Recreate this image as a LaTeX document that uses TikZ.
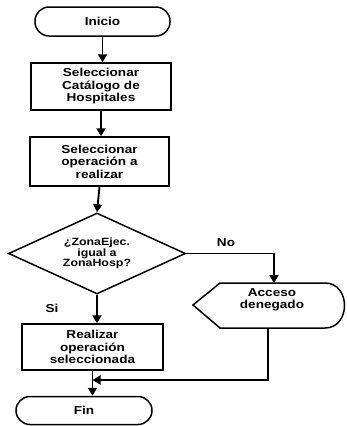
\documentclass[tikz,border=0pt]{standalone}
\usepackage{fontspec}
\newfontfamily\diafont{Liberation Sans}[FakeStretch=1.18]
\usetikzlibrary{shapes.geometric,arrows.meta}
\begin{document}
\begin{tikzpicture}[x=1pt,y=-1pt,
  every node/.style={font=\diafont\bfseries\fontsize{11.5}{12.5}\selectfont, align=center, inner sep=0pt},
  procbox/.style={draw, line width=1.5pt, rectangle},
  termbox/.style={draw, line width=1.5pt, rectangle, rounded corners=14pt},
  decbox/.style={draw, line width=1.5pt, diamond, aspect=2.2, font=\diafont\bfseries\fontsize{10.5}{10.5}\selectfont},
  shapeline/.style={line width=1.5pt},
  flow/.style={line width=1.9pt, -{Triangle[length=8pt,width=9pt]}}]
\useasboundingbox (0,0) rectangle (347,426);
% nodes
\node[termbox, minimum width=135pt, minimum height=29pt] (ini) at (102.5,21.5) {Inicio};
\node[procbox, minimum width=140pt, minimum height=47pt] (cat) at (101,86.5) {Seleccionar\\Catálogo de\\Hospitales};
\node[procbox, minimum width=139pt, minimum height=49pt] (ope) at (99.5,161.5) {Seleccionar\\operación a\\realizar};
\node[decbox, minimum width=177pt, minimum height=81pt] (dec) at (97,253.5) {¿ZonaEjec.\\igual a\\ZonaHosp?};
\node[procbox, minimum width=141pt, minimum height=46pt] (rea) at (92.5,347) {Realizar\\operación\\seleccionada};
\node[termbox, minimum width=136pt, minimum height=28pt] (fin) at (84,410.5) {Fin};
% display shape
\draw[shapeline] (193,305) -- (220,283) -- (325,283) .. controls (351,283) and (351,328) .. (325,328) -- (220,328) -- cycle;
\node (acc) at (272,300) {Acceso\\denegado};
\coordinate (hexin) at (274,283);
\coordinate (hexout) at (268,328);
\coordinate (join) at (92.5,380);
% labels
\node (si) at (52,308) {Si};
\node (no) at (226,243) {No};
% connectors
\draw[flow] (ini.south) -- (ini.south |- cat.north);
\draw[flow] (cat.south) -- (cat.south |- ope.north);
\draw[flow] (ope.south) -- (dec.north);
\draw[flow] (dec.south) -- (dec.south |- rea.north);
\draw[flow] (dec.east) -| (hexin);
\draw[flow] (rea.south) -- (rea.south |- fin.north);
\draw[flow] (hexout) |- (join);
\end{tikzpicture}
\end{document}
